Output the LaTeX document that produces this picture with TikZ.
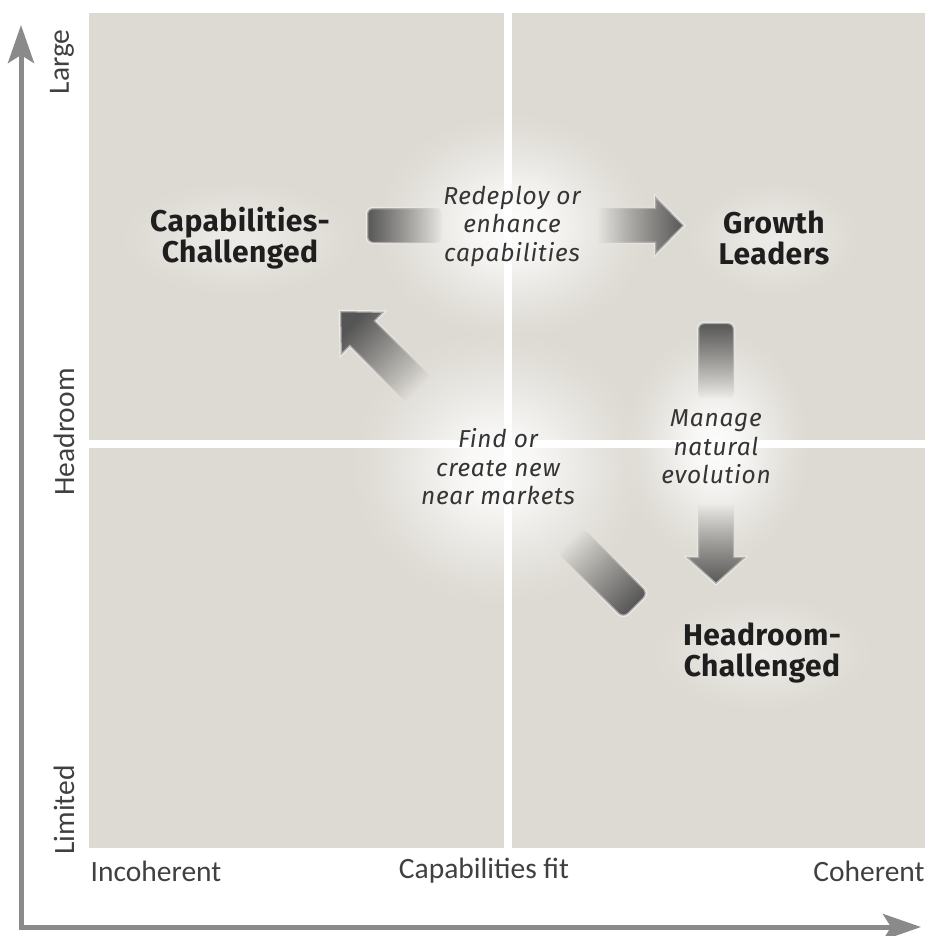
\documentclass[tikz,border=0pt]{standalone}
\usepackage{fontspec}
\setmainfont{Fira Sans}
\newfontfamily\dinbold[LetterSpace=1.5]{Fira Sans Bold}
\newfontfamily\dinital[LetterSpace=3]{Fira Sans Italic}
\newfontfamily\axisfont{Carlito}
\usetikzlibrary{arrows.meta,fadings}
\definecolor{bgc}{RGB}{221,218,211}
\definecolor{axc}{RGB}{138,138,138}
\definecolor{arrc}{RGB}{85,85,85}
\definecolor{txt}{RGB}{30,30,30}
\tikzfading[name=fadeR, left color=transparent!0, right color=transparent!100]
\tikzfading[name=fadeL, left color=transparent!100, right color=transparent!0]
\tikzfading[name=fadeU, top color=transparent!0, bottom color=transparent!100]
\tikzfading[name=fadeD, top color=transparent!100, bottom color=transparent!0]
\pgfdeclareradialshading{glowsh}{\pgfpointorigin}{rgb(0bp)=(0.95,0.95,0.95); rgb(6bp)=(0.8,0.8,0.8); rgb(14bp)=(0.4,0.4,0.4); rgb(21bp)=(0.1,0.1,0.1); rgb(25bp)=(0,0,0); rgb(50bp)=(0,0,0)}
\pgfdeclarefading{glowfade}{\pgfuseshading{glowsh}}
\tikzset{axtip/.tip={Stealth[length=38pt,width=26pt,inset=8pt]}}
\begin{document}
\begin{tikzpicture}[x=1pt,y=-1pt,
  boldlab/.style={font=\dinbold\fontsize{30}{31}\selectfont, align=center, text=txt},
  itallab/.style={font=\dinital\fontsize{24.5}{28.5}\selectfont, align=center, text=txt!90},
  axlab/.style={font=\axisfont\fontsize{29.5}{30}\selectfont, text=txt!85},
  axisline/.style={axc, line width=5pt, line join=miter},
  glow/.style={white, path fading=glowfade},
  blockarrow/.style={fill=arrc, draw=white, line width=2.5pt, draw opacity=0.5},
]
\useasboundingbox (0,0) rectangle (931,936);
% quadrant background
\fill[bgc] (89,13) rectangle (925,848);
% glows
\fill[glow] (512,226) ellipse [x radius=140pt, y radius=115pt];
\fill[glow] (498,468) ellipse [x radius=150pt, y radius=140pt];
\fill[glow] (716,447) ellipse [x radius=95pt, y radius=120pt];
\fill[glow, opacity=0.5] (240,238) ellipse [x radius=125pt, y radius=60pt];
\fill[glow, opacity=0.5] (774,238) ellipse [x radius=90pt, y radius=60pt];
\fill[glow, opacity=0.5] (762,653) ellipse [x radius=115pt, y radius=60pt];
% white gaps
\fill[white] (504,13) rectangle (512,848);
\fill[white] (89,440) rectangle (925,448);
% axes
\coordinate (ytop) at (21,25);
\coordinate (orig) at (21,927);
\coordinate (xend) at (921,927);
\draw[axisline, axtip-axtip] (ytop) -- (orig) -- (xend);
% horizontal arrow
\path[blockarrow, path fading=fadeR, rounded corners=6pt] (367,208) rectangle (442,243);
\path[blockarrow, path fading=fadeL] (598,208) -- (655,208) -- (655,196) -- (684,225.5) -- (655,255) -- (655,243) -- (598,243) -- cycle;
% vertical arrow
\path[blockarrow, path fading=fadeU, rounded corners=6pt] (698,323) rectangle (734,398);
\path[blockarrow, path fading=fadeD] (698,505) -- (698,557) -- (686,557) -- (716,584) -- (746,557) -- (734,557) -- (734,505) -- cycle;
% diagonal arrow
\path[blockarrow, path fading=fadeU, fading angle=45] (340,311) -- (384.5,311.7) -- (375.3,320.9) -- (430.5,376.1) -- (405.1,401.5) -- (349.9,346.3) -- (340.7,355.5) -- cycle;
\path[blockarrow, path fading=fadeD, fading angle=45, rounded corners=7pt] (582.7,527.3) -- (648.7,593.3) -- (623.3,618.7) -- (557.3,552.7) -- cycle;
% labels
\node[boldlab] (cc) at (240,238) {Capabilities-\\Challenged};
\node[boldlab] (gl) at (774,238) {Growth\\Leaders};
\node[boldlab] (hc) at (762,653) {Headroom-\\Challenged};
\node[itallab] (rd) at (512,226) {Redeploy or\\enhance\\capabilities};
\node[itallab] (fc) at (498,467) {Find or\\create new\\near markets};
\node[itallab] (mn) at (716,447) {Manage\\natural\\evolution};
% axis labels
\node[axlab, rotate=90] (lg) at (62,62) {Large};
\node[axlab, rotate=90] (hr) at (64,432) {Headroom};
\node[axlab, rotate=90] (lm) at (64,810) {Limited};
\node[axlab] (ic) at (156,871) {Incoherent};
\node[axlab] (cf) at (484,871) {Capabilities fit};
\node[axlab] (ch) at (869,871) {Coherent};
\end{tikzpicture}
\end{document}
